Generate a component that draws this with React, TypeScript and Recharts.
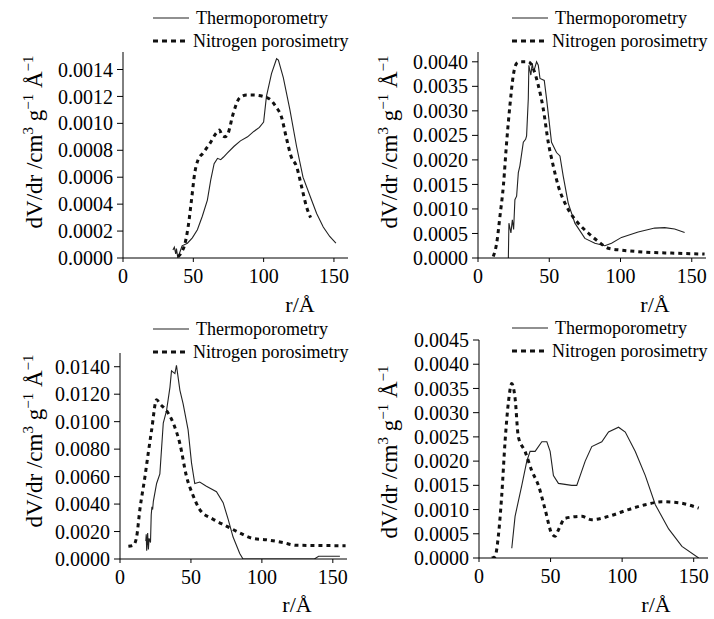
import { LineChart, Line, XAxis, YAxis, Legend } from "recharts";

// pore size distributions, r in Å, dV/dr in cm3 g-1 Å-1
const xTicks = [0, 50, 100, 150];

const topLeftThermo = [
  [35.5, 0.00006], [36.5, 0.00008], [37.5, 0.00003], [38, 0.00007], [39, 0.0], [40, 0.00003],
  [42, 0.00009], [45.8, 0.00011], [49.3, 0.00015], [52.9, 0.00021], [56.4, 0.00031], [60, 0.00043],
  [62.4, 0.00058], [64.8, 0.0007], [67.2, 0.00074], [69.5, 0.00073], [71.5, 0.00075], [74.3, 0.00078],
  [79, 0.00083], [83.5, 0.00087], [88.6, 0.0009], [93, 0.00094], [97, 0.00097], [100, 0.00101],
  [102, 0.0012], [105.6, 0.00137], [109.2, 0.00148], [110.5, 0.00147], [114, 0.00134], [118.7, 0.0011],
  [123.4, 0.00083], [128, 0.0006], [133, 0.00046], [137.7, 0.00033], [142.4, 0.00023], [147, 0.00016],
  [151.4, 0.00011],
];
const topLeftNitro = [
  [39.2, 0.00001], [41.5, 0.00004], [43.9, 0.0001], [46.3, 0.00023], [48.7, 0.00043], [51, 0.00063],
  [53.4, 0.00073], [57, 0.00078], [61.7, 0.00085], [66.5, 0.00093], [68.5, 0.00095], [70.5, 0.00091],
  [72.5, 0.0009], [74.5, 0.00092], [78.3, 0.00107], [83, 0.00119], [87.8, 0.00121], [93, 0.00121],
  [99.7, 0.0012], [104.4, 0.00118], [109, 0.00112], [112.6, 0.00105], [116, 0.0009], [119.7, 0.00075],
  [123.4, 0.00068], [127, 0.00053], [130.5, 0.00038], [133.4, 0.0003],
];

const topRightThermo = [
  [21.3, 0.0], [21.7, 0.00071], [23.1, 0.00051], [24.1, 0.00078], [25, 0.00058], [25.9, 0.00119],
  [27.1, 0.00126], [28.3, 0.00174], [29.4, 0.00188], [31.8, 0.00236], [33.4, 0.00242], [34.1, 0.00249],
  [35.3, 0.00325], [35.7, 0.00393], [37.1, 0.00373], [38.1, 0.00397], [39, 0.00379], [41.1, 0.004],
  [42.3, 0.00393], [43.5, 0.00366], [46.5, 0.00362], [48.1, 0.00325], [51.6, 0.00236], [55.1, 0.00215],
  [57.5, 0.00208], [59.8, 0.00167], [63.3, 0.00112], [68, 0.00071], [75, 0.0004], [82, 0.0003],
  [89, 0.00025], [93.7, 0.0003], [100.7, 0.00042], [112.4, 0.00053], [124, 0.00061], [131, 0.00062],
  [138, 0.00059], [145, 0.00052],
];
const topRightNitro = [
  [10.7, 0.00003], [13.1, 0.0003], [15.4, 0.00085], [17.8, 0.00147], [20.1, 0.00236], [22.4, 0.00311],
  [24.8, 0.00373], [27.1, 0.00397], [29.4, 0.004], [35.3, 0.004], [38.8, 0.00386], [42.3, 0.00352],
  [45.8, 0.00304], [49.3, 0.00236], [52.8, 0.00188], [56.3, 0.00147], [61, 0.00112], [65.7, 0.00088],
  [70.3, 0.00071], [77.3, 0.00051], [84.3, 0.00034], [91.4, 0.0002], [100.7, 0.00016], [112.4, 0.00013],
  [124, 0.00011], [135.7, 0.0001], [159, 0.00008],
];

const bottomLeftThermo = [
  [18.2, 0.0013], [18.5, 0.0018], [18.8, 0.0006], [19.5, 0.0019], [20, 0.0007], [20.5, 0.0015],
  [21.5, 0.0012], [22, 0.0032], [22.5, 0.0038], [23, 0.0036], [23.5, 0.0042], [25.8, 0.0055],
  [28.1, 0.0062], [30.5, 0.0099], [32.8, 0.0108], [35.2, 0.0125], [36.3, 0.0137], [38.7, 0.0135],
  [39.8, 0.0141], [42.2, 0.0123], [44.5, 0.0113], [48, 0.0094], [50.4, 0.007], [52.7, 0.0055],
  [56.2, 0.0056], [60.9, 0.0053], [68, 0.0049], [72.7, 0.0041], [76.2, 0.0029], [79.7, 0.0016],
  [84.4, 0.0004], [86.7, 0.0], [137, 0.0], [140, 0.0002], [155, 0.0002],
];
const bottomLeftNitro = [
  [5.9, 0.00092], [9.4, 0.001], [11.7, 0.0016], [14, 0.0036], [17.6, 0.006], [19.9, 0.0077],
  [22.3, 0.0094], [25.8, 0.0116], [28.1, 0.0113], [32.8, 0.0108], [37.5, 0.0099], [42.2, 0.0084],
  [46.9, 0.006], [51.6, 0.0046], [56.2, 0.0036], [65.6, 0.0029], [75, 0.0024], [84.4, 0.0019],
  [93.7, 0.0015], [103, 0.0014], [114.8, 0.0012], [124.2, 0.001], [159, 0.00097],
];

const bottomRightThermo = [
  [22.9, 0.0002], [25.2, 0.00086], [29.9, 0.0015], [33.4, 0.002], [35.7, 0.0022], [39.2, 0.0022],
  [43.9, 0.0024], [47.4, 0.0024], [49.7, 0.0022], [52, 0.0017], [55.5, 0.00154], [64.8, 0.0015],
  [68.3, 0.0015], [74.2, 0.002], [78.8, 0.0023], [85.8, 0.0024], [90.5, 0.0026], [97.5, 0.0027],
  [102.2, 0.0026], [109.2, 0.0022], [116.2, 0.0017], [123.2, 0.0011], [132.5, 0.0006], [141.8, 0.00024],
  [153.5, 0.0],
];
const bottomRightNitro = [
  [8.9, 0.0], [11.2, 0.00003], [13.5, 0.00045], [15.9, 0.0013], [18.2, 0.0024], [20.5, 0.0032],
  [22.9, 0.0036], [25.2, 0.0033], [27.5, 0.0025], [32.2, 0.0022], [36.9, 0.0018], [41.5, 0.0015],
  [46.2, 0.001], [50.9, 0.0005], [53.2, 0.00045], [55.5, 0.00058], [60.2, 0.00082], [71.8, 0.00086],
  [78.8, 0.00079], [90.5, 0.00086], [104.5, 0.001], [116.2, 0.0011], [127.8, 0.00116], [139.5, 0.00114],
  [153.5, 0.00103],
];

const FONT = "Liberation Serif, Times New Roman, serif";

const toPoints = (rows: number[][]) => rows.map(([r, v]) => ({ r, v }));

const LegendBox = () => (
  <div style={{ fontFamily: FONT, fontSize: 18, color: "#000", lineHeight: "23px", whiteSpace: "nowrap" }}>
    <div style={{ display: "flex", alignItems: "center" }}>
      <svg width={36} height={4} style={{ marginRight: 7 }}>
        <line x1={0} y1={2} x2={36} y2={2} stroke="#222" strokeWidth={1.2} />
      </svg>
      Thermoporometry
    </div>
    <div style={{ display: "flex", alignItems: "center" }}>
      <svg width={36} height={4} style={{ marginRight: 4 }}>
        <line x1={0} y1={2} x2={36} y2={2} stroke="#111" strokeWidth={3} strokeDasharray="5 4" />
      </svg>
      Nitrogen porosimetry
    </div>
  </div>
);

interface PanelProps {
  left: number;
  top: number;
  width: number;
  height: number;
  margin: { top: number; right: number; bottom: number; left: number };
  yMax: number;
  yTicks: number[];
  thermo: number[][];
  nitro: number[][];
  legendLeft: number;
  legendTop: number;
  labelY: number;
}

const Panel = (p: PanelProps) => {
  const yLabel = () => (
    <text
      x={42}
      y={p.labelY}
      transform={`rotate(-90, 42, ${p.labelY})`}
      textAnchor="middle"
      fontFamily={FONT}
      fontSize={23}
      fill="#000"
    >
      dV/dr /cm<tspan dy={-9} fontSize={15}>3</tspan>
      <tspan dy={9}> g</tspan>
      <tspan dy={-9} fontSize={15}>−1</tspan>
      <tspan dy={9}> Å</tspan>
      <tspan dy={-9} fontSize={15}>−1</tspan>
    </text>
  );
  const xLabel = (props: any) => {
    const vb = props.viewBox || { x: 0 };
    return (
      <text x={vb.x + 177} y={312} textAnchor="middle" fontFamily={FONT} fontSize={22} fill="#000">
        r/Å
      </text>
    );
  };
  return (
    <div style={{ position: "absolute", left: p.left, top: p.top }}>
      <LineChart width={p.width} height={p.height} margin={p.margin}>
        <XAxis
          type="number"
          dataKey="r"
          domain={[0, 160]}
          ticks={xTicks}
          interval={0}
          allowDataOverflow
          stroke="#000"
          tickSize={4}
          tickMargin={7}
          height={30}
          tick={{ fill: "#000", fontSize: 20, fontFamily: FONT }}
          label={xLabel}
        />
        <YAxis
          type="number"
          dataKey="v"
          domain={[0, p.yMax]}
          ticks={p.yTicks}
          interval={0}
          allowDataOverflow
          stroke="#000"
          tickSize={6}
          tickMargin={4}
          width={70}
          tickFormatter={(v: number) => v.toFixed(4)}
          tick={{ fill: "#000", fontSize: 20, fontFamily: FONT }}
          label={yLabel}
        />
        <Legend
          layout="vertical"
          align="center"
          verticalAlign="middle"
          wrapperStyle={{ left: p.legendLeft, top: p.legendTop, width: 210 }}
          content={() => <LegendBox />}
        />
        <Line
          data={toPoints(p.thermo)}
          dataKey="v"
          name="Thermoporometry"
          type="linear"
          stroke="#222"
          strokeWidth={1.1}
          dot={false}
          isAnimationActive={false}
        />
        <Line
          data={toPoints(p.nitro)}
          dataKey="v"
          name="Nitrogen porosimetry"
          type="monotone"
          stroke="#111"
          strokeWidth={3}
          strokeDasharray="4 4"
          dot={false}
          isAnimationActive={false}
        />
      </LineChart>
    </div>
  );
};

export default function App() {
  return (
    <div style={{ position: "absolute", left: 0, top: 0, width: 714, height: 619, background: "#fff" }}>
      <Panel
        left={0}
        top={0}
        width={357}
        height={320}
        margin={{ top: 52, right: 9, bottom: 32, left: 53 }}
        yMax={0.00153}
        yTicks={[0, 0.0002, 0.0004, 0.0006, 0.0008, 0.001, 0.0012, 0.0014]}
        thermo={topLeftThermo}
        nitro={topLeftNitro}
        legendLeft={153}
        legendTop={6.5}
        labelY={142}
      />
      <Panel
        left={355}
        top={0}
        width={359}
        height={320}
        margin={{ top: 52, right: 8, bottom: 32, left: 53 }}
        yMax={0.0042}
        yTicks={[0, 0.0005, 0.001, 0.0015, 0.002, 0.0025, 0.003, 0.0035, 0.004]}
        thermo={topRightThermo}
        nitro={topRightNitro}
        legendLeft={157}
        legendTop={6.5}
        labelY={142}
      />
      <Panel
        left={0}
        top={300}
        width={357}
        height={319}
        margin={{ top: 53, right: 10, bottom: 30, left: 50 }}
        yMax={0.015}
        yTicks={[0, 0.002, 0.004, 0.006, 0.008, 0.01, 0.012, 0.014]}
        thermo={bottomLeftThermo}
        nitro={bottomLeftNitro}
        legendLeft={153}
        legendTop={17.5}
        labelY={141}
      />
      <Panel
        left={355}
        top={300}
        width={359}
        height={319}
        margin={{ top: 40, right: 6, bottom: 31, left: 54 }}
        yMax={0.0045}
        yTicks={[0, 0.0005, 0.001, 0.0015, 0.002, 0.0025, 0.003, 0.0035, 0.004, 0.0045]}
        thermo={bottomRightThermo}
        nitro={bottomRightNitro}
        legendLeft={157}
        legendTop={16.5}
        labelY={152}
      />
    </div>
  );
}
